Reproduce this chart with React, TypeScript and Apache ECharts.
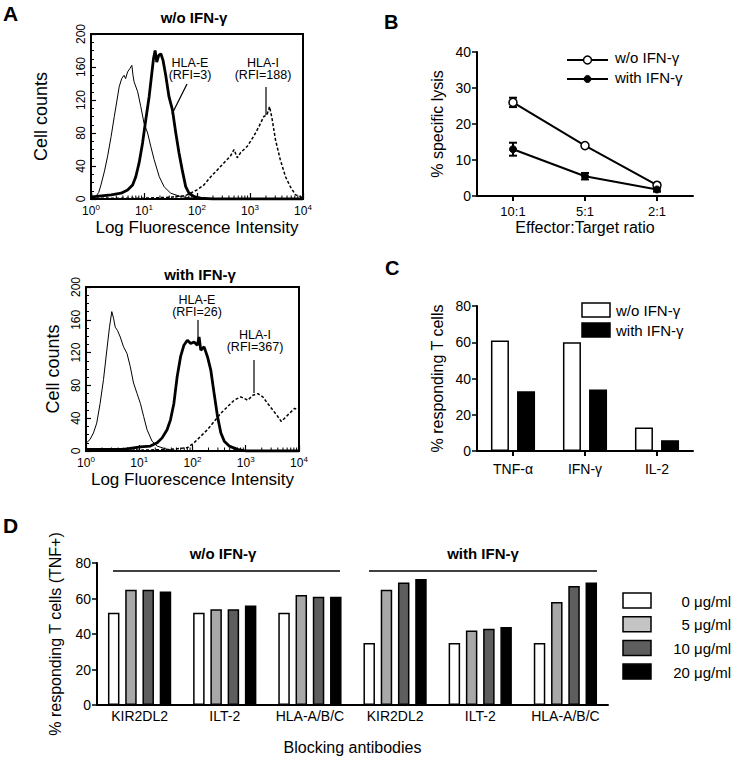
import React, { useEffect, useRef } from "react";
import * as echarts from "echarts";

// ---------- Panel A: flow cytometry histograms ----------
const minorLogTicks = [2, 3, 4, 5, 6, 7, 8, 9, 20, 30, 40, 50, 60, 70, 80, 90, 200, 300, 400, 500, 600, 700, 800, 900, 2000, 3000, 4000, 5000, 6000, 7000, 8000, 9000];

// w/o IFN-γ
const isoTop = [[1, 0], [1, 16], [1.04, 4], [1.2, 2], [1.4, 8], [1.54, 17], [1.8, 34], [2.06, 52], [2.4, 76], [2.75, 100], [3.1, 120], [3.4, 136], [3.8, 146], [4.2, 150], [4.5, 146], [4.9, 154], [5.4, 158], [5.9, 162], [6.2, 150], [6.5, 142], [7.6, 130], [8.7, 112], [10, 92], [11.7, 80], [13.4, 64], [15.5, 48], [19.4, 27], [23.9, 15], [31.8, 7], [49, 3], [80, 1], [150, 0], [10000, 0]];
const hlaETop = [[1, 2], [1.15, 3], [2.4, 5], [3.7, 7], [4.9, 11], [6.1, 17], [7.0, 27], [8.1, 44], [9.4, 68], [10.8, 96], [12.5, 124], [13.8, 148], [15.1, 170], [16.2, 180], [17.4, 166], [19, 174], [20.8, 176], [22.9, 168], [25.7, 150], [29.6, 124], [34.4, 108], [39.8, 80], [45.7, 56], [52.7, 35], [61.2, 15], [70.5, 7], [87.5, 3], [117, 1], [200, 0], [10000, 0]];
const hlaITop = [[1, 1], [10, 1], [30, 2], [60, 4], [100, 11], [135, 17], [182, 27], [240, 35], [324, 44], [427, 52], [500, 60], [575, 50], [661, 56], [891, 64], [1175, 76], [1479, 88], [1820, 100], [2089, 102], [2344, 112], [2630, 96], [3020, 72], [3715, 48], [4677, 27], [5754, 15], [7244, 5], [8913, 3], [10000, 1]];

// with IFN-γ
const isoBot = [[1, 0], [1, 85], [1.02, 10], [1.19, 14], [1.38, 22], [1.59, 34], [1.84, 58], [2.13, 87], [2.46, 123], [2.76, 151], [3.05, 170], [3.29, 162], [3.54, 151], [3.9, 147], [4.4, 139], [5.07, 127], [5.88, 119], [6.78, 103], [7.8, 83], [9.1, 70], [10.5, 58], [12.1, 42], [14.0, 26], [17.4, 12], [21.7, 6], [33.3, 2], [60, 0], [10000, 0]];
const hlaEBot = [[1, 2], [5, 2], [10.5, 5], [16.2, 6], [21.7, 10], [26.9, 16], [33.3, 26], [38.6, 38], [44.7, 58], [51.6, 91], [59.7, 115], [69, 129], [80, 135], [92.4, 131], [107, 133], [123, 129], [133, 139], [143, 123], [165, 127], [191, 115], [220, 99], [255, 70], [295, 42], [341, 22], [395, 12], [490, 6], [700, 2], [1000, 0], [10000, 0]];
const hlaIBot = [[1, 1], [10, 1], [40, 2], [80, 4], [107, 10], [143, 18], [191, 26], [255, 36], [341, 46], [454, 54], [606, 62], [810, 66], [1091, 62], [1355, 68], [1690, 70], [2090, 66], [2580, 58], [3220, 50], [4000, 42], [4650, 36], [5370, 40], [6630, 46], [8260, 52], [10000, 50]];

// ---------- Panel B: lysis ----------
const ratios = ["10:1", "5:1", "2:1"];
const lysisWo = [26, 14, 3];
const lysisWoErr = [1.3, 0.4, 0.5];
const lysisWith = [13, 5.5, 1.8];
const lysisWithErr = [1.8, 0.9, 0.6];

// ---------- Panel C: cytokines ----------
const cytokines = ["TNF-α", "IFN-γ", "IL-2"];
const cytoWo = [61, 60, 13];
const cytoWith = [33, 34, 6];

// ---------- Panel D: blocking antibodies ----------
const antibodies = ["KIR2DL2", "ILT-2", "HLA-A/B/C", "KIR2DL2", "ILT-2", "HLA-A/B/C"];
const doseNames = ["0 μg/ml", "5 μg/ml", "10 μg/ml", "20 μg/ml"];
const dose0 = [52, 52, 52, 35, 35, 35];
const dose5 = [65, 54, 62, 65, 42, 58];
const dose10 = [65, 54, 61, 69, 43, 67];
const dose20 = [64, 56, 61, 71, 44, 69];
const doseColors = ["#ffffff", "#a8a8a8", "#5e5e5e", "#000000"];
const doseLegendColors = ["#ffffff", "#c4c4c4", "#5e5e5e", "#000000"];

const FONT = "Liberation Sans, Arial, Helvetica, sans-serif";

function logAxis(gridIndex: number) {
  return {
    type: "log",
    gridIndex,
    logBase: 10,
    min: 1,
    max: 10000,
    axisLine: { show: true, lineStyle: { color: "#000", width: 2 } },
    axisTick: { show: true, inside: true, length: 6, lineStyle: { color: "#000", width: 1.2 } },
    splitLine: { show: false },
    axisLabel: {
      margin: 4,
      formatter: (v: number) => `{b|10}{s|${Math.round(Math.log10(v))}}`,
      rich: {
        b: { fontSize: 12, lineHeight: 14, verticalAlign: "bottom", color: "#000", fontFamily: FONT },
        s: { fontSize: 8, lineHeight: 8, verticalAlign: "top", color: "#000", fontFamily: FONT },
      },
    },
    name: "Log Fluorescence Intensity",
    nameLocation: "middle",
    nameGap: 20,
    nameTextStyle: { fontSize: 17, color: "#000", fontFamily: FONT },
  };
}

function countAxis(gridIndex: number, nameGap: number) {
  return {
    type: "value",
    gridIndex,
    min: 0,
    max: 200,
    interval: 40,
    axisLine: { show: true, lineStyle: { color: "#000", width: 2 } },
    axisTick: { show: true, inside: true, length: 5, lineStyle: { color: "#000", width: 1.2 } },
    minorTick: { show: true, splitNumber: 4, length: 3, lineStyle: { color: "#000", width: 1 } },
    splitLine: { show: false },
    axisLabel: { rotate: 90, margin: 4, fontSize: 12, color: "#000", fontFamily: FONT },
    name: "Cell counts",
    nameLocation: "middle",
    nameGap,
    nameTextStyle: { fontSize: 18, color: "#000", fontFamily: FONT },
  };
}

function minorTickSeries(idx: number) {
  return {
    type: "custom",
    xAxisIndex: idx,
    yAxisIndex: idx,
    silent: true,
    z: 5,
    data: minorLogTicks.map((v) => [v, 0]),
    renderItem: (_p: any, api: any) => {
      const pt = api.coord([api.value(0), 0]);
      return {
        type: "line",
        shape: { x1: pt[0], y1: pt[1], x2: pt[0], y2: pt[1] - 3.5 },
        style: { stroke: "#000", lineWidth: 1 },
      };
    },
  };
}

function histo(idx: number, data: number[][], width: number, dashed: boolean) {
  return {
    type: "line",
    xAxisIndex: idx,
    yAxisIndex: idx,
    data,
    showSymbol: false,
    symbol: "none",
    clip: true,
    lineStyle: { color: "#000", width, type: dashed ? [3, 2] : "solid" },
  };
}

function errorSeries(idx: number, vals: number[], errs: number[]) {
  return {
    type: "custom",
    xAxisIndex: idx,
    yAxisIndex: idx,
    silent: true,
    z: 1,
    data: vals.map((v, i) => [i, v - errs[i], v + errs[i]]),
    renderItem: (_p: any, api: any) => {
      const lo = api.coord([api.value(0), api.value(1)]);
      const hi = api.coord([api.value(0), api.value(2)]);
      const w = 4;
      return {
        type: "group",
        children: [
          { type: "line", shape: { x1: lo[0], y1: lo[1], x2: hi[0], y2: hi[1] }, style: { stroke: "#000", lineWidth: 2 } },
          { type: "line", shape: { x1: lo[0] - w, y1: lo[1], x2: lo[0] + w, y2: lo[1] }, style: { stroke: "#000", lineWidth: 2 } },
          { type: "line", shape: { x1: hi[0] - w, y1: hi[1], x2: hi[0] + w, y2: hi[1] }, style: { stroke: "#000", lineWidth: 2 } },
        ],
      };
    },
  };
}

function txt(x: number, y: number, text: string, size: number, opts: any = {}) {
  return {
    type: "text",
    x,
    y,
    style: {
      text,
      fontSize: size,
      lineHeight: opts.lineHeight || undefined,
      fontFamily: FONT,
      fill: "#000",
      fontWeight: opts.bold ? "bold" : "normal",
      textAlign: opts.align || "center",
      textVerticalAlign: "middle",
    },
  };
}

function ln(x1: number, y1: number, x2: number, y2: number, w = 1.2) {
  return { type: "line", shape: { x1, y1, x2, y2 }, style: { stroke: "#000", lineWidth: w } };
}

export default function App() {
  const ref = useRef<HTMLDivElement>(null);
  useEffect(() => {
    if (!ref.current) return;
    const chart = echarts.init(ref.current, null, { renderer: "svg" });
    const blackAxisLine = { show: true, lineStyle: { color: "#000", width: 2 } };
    const option: any = {
      animation: false,
      backgroundColor: "#fff",
      textStyle: { fontFamily: FONT },
      grid: [
        { left: 91, top: 34, width: 212, height: 165, show: true, borderColor: "#000", borderWidth: 2, backgroundColor: "transparent" },
        { left: 86, top: 287, width: 213, height: 164, show: true, borderColor: "#000", borderWidth: 2, backgroundColor: "transparent" },
        { left: 477, top: 52, width: 216, height: 144 },
        { left: 477, top: 306, width: 216, height: 145 },
        { left: 97, top: 563, width: 511, height: 142 },
      ],
      xAxis: [
        logAxis(0),
        logAxis(1),
        {
          type: "category",
          gridIndex: 2,
          data: ratios,
          axisLine: blackAxisLine,
          axisTick: { show: true, alignWithLabel: true, length: 5, lineStyle: { color: "#000", width: 2 } },
          axisLabel: { fontSize: 13, color: "#000", margin: 9, fontFamily: FONT },
          name: "Effector:Target ratio",
          nameLocation: "middle",
          nameGap: 23,
          nameTextStyle: { fontSize: 16, color: "#000", fontFamily: FONT },
        },
        {
          type: "category",
          gridIndex: 3,
          data: cytokines,
          axisLine: blackAxisLine,
          axisTick: { show: true, alignWithLabel: true, length: 5, lineStyle: { color: "#000", width: 2 } },
          axisLabel: { fontSize: 14, color: "#000", margin: 11, fontFamily: FONT },
        },
        {
          type: "category",
          gridIndex: 4,
          data: antibodies,
          axisLine: blackAxisLine,
          axisTick: { show: false },
          axisLabel: { fontSize: 14, color: "#000", margin: 4, fontFamily: FONT, interval: 0 },
          name: "Blocking antibodies",
          nameLocation: "middle",
          nameGap: 34,
          nameTextStyle: { fontSize: 16, color: "#000", fontFamily: FONT },
        },
      ],
      yAxis: [
        countAxis(0, 41),
        countAxis(1, 24),
        {
          type: "value",
          gridIndex: 2,
          min: 0,
          max: 40,
          interval: 10,
          axisLine: blackAxisLine,
          axisTick: { show: true, length: 5, lineStyle: { color: "#000", width: 1.5 } },
          splitLine: { show: false },
          axisLabel: { fontSize: 14, color: "#000", margin: 6, fontFamily: FONT },
          name: "% specific lysis",
          nameLocation: "middle",
          nameGap: 32,
          nameTextStyle: { fontSize: 16, color: "#000", fontFamily: FONT },
        },
        {
          type: "value",
          gridIndex: 3,
          min: 0,
          max: 80,
          interval: 20,
          axisLine: blackAxisLine,
          axisTick: { show: true, length: 5, lineStyle: { color: "#000", width: 1.5 } },
          splitLine: { show: false },
          axisLabel: { fontSize: 14, color: "#000", margin: 6, fontFamily: FONT },
          name: "% responding T cells",
          nameLocation: "middle",
          nameGap: 32,
          nameTextStyle: { fontSize: 16, color: "#000", fontFamily: FONT },
        },
        {
          type: "value",
          gridIndex: 4,
          min: 0,
          max: 80,
          interval: 20,
          axisLine: blackAxisLine,
          axisTick: { show: true, length: 5, lineStyle: { color: "#000", width: 1.5 } },
          splitLine: { show: false },
          axisLabel: { fontSize: 14, color: "#000", margin: 6, fontFamily: FONT },
          name: "% responding T cells (TNF+)",
          nameLocation: "middle",
          nameGap: 34,
          nameTextStyle: { fontSize: 16, color: "#000", fontFamily: FONT },
        },
      ],
      series: [
        histo(0, isoTop, 1, false),
        histo(0, hlaETop, 2.8, false),
        histo(0, hlaITop, 1.5, true),
        minorTickSeries(0),
        histo(1, isoBot, 1, false),
        histo(1, hlaEBot, 2.8, false),
        histo(1, hlaIBot, 1.5, true),
        minorTickSeries(1),
        errorSeries(2, lysisWo, lysisWoErr),
        errorSeries(2, lysisWith, lysisWithErr),
        {
          type: "line",
          name: "w/o IFN-γ",
          xAxisIndex: 2,
          yAxisIndex: 2,
          data: lysisWo,
          symbol: "circle",
          symbolSize: 8,
          z: 3,
          lineStyle: { color: "#000", width: 2 },
          itemStyle: { color: "#fff", borderColor: "#000", borderWidth: 1.5 },
        },
        {
          type: "line",
          name: "with IFN-γ",
          xAxisIndex: 2,
          yAxisIndex: 2,
          data: lysisWith,
          symbol: "circle",
          symbolSize: 7,
          z: 3,
          lineStyle: { color: "#000", width: 2 },
          itemStyle: { color: "#000", borderColor: "#000", borderWidth: 1 },
        },
        {
          type: "bar",
          name: "w/o IFN-γ",
          xAxisIndex: 3,
          yAxisIndex: 3,
          data: cytoWo,
          barWidth: 18,
          barGap: "45%",
          itemStyle: { color: "#fff", borderColor: "#000", borderWidth: 1.5 },
        },
        {
          type: "bar",
          name: "with IFN-γ",
          xAxisIndex: 3,
          yAxisIndex: 3,
          data: cytoWith,
          barWidth: 18,
          barGap: "45%",
          itemStyle: { color: "#000", borderColor: "#000", borderWidth: 1.5 },
        },
        ...[dose0, dose5, dose10, dose20].map((d, i) => ({
          type: "bar",
          name: doseNames[i],
          xAxisIndex: 4,
          yAxisIndex: 4,
          data: d,
          barWidth: 11.5,
          barGap: "50%",
          itemStyle: { color: doseColors[i], borderColor: "#000", borderWidth: 1.5 },
        })),
      ],
      graphic: [
        // panel letters
        txt(3, 13, "A", 21, { bold: true, align: "left" }),
        txt(384, 22, "B", 20, { bold: true, align: "left" }),
        txt(385, 268, "C", 20, { bold: true, align: "left" }),
        txt(3, 525, "D", 21, { bold: true, align: "left" }),
        // panel A titles and annotations
        txt(194, 17, "w/o IFN-γ", 15, { bold: true }),
        txt(200, 274, "with IFN-γ", 15, { bold: true }),
        txt(190, 69, "HLA-E\n(RFI=3)", 12.5, { lineHeight: 12.5 }),
        ln(187, 84, 172, 114),
        txt(263, 69, "HLA-I\n(RFI=188)", 12.5, { lineHeight: 12.5 }),
        ln(266, 87, 266, 115),
        txt(197, 306, "HLA-E\n(RFI=26)", 12.5, { lineHeight: 12.5 }),
        ln(198, 320, 198, 344),
        txt(255, 341, "HLA-I\n(RFI=367)", 12.5, { lineHeight: 12.5 }),
        ln(254, 360, 254, 393),
        // panel B legend
        ln(567, 60, 608, 60, 2),
        { type: "circle", shape: { cx: 587.5, cy: 60, r: 4 }, style: { fill: "#fff", stroke: "#000", lineWidth: 1.5 } },
        txt(615, 57, "w/o IFN-γ", 15, { align: "left" }),
        ln(567, 79, 608, 79, 2),
        { type: "circle", shape: { cx: 587.5, cy: 79, r: 3.5 }, style: { fill: "#000", stroke: "#000", lineWidth: 1 } },
        txt(615, 77, "with IFN-γ", 15, { align: "left" }),
        // panel C legend
        { type: "rect", shape: { x: 582, y: 303, width: 28, height: 14 }, style: { fill: "#fff", stroke: "#000", lineWidth: 1.5 } },
        txt(616, 310, "w/o IFN-γ", 15, { align: "left" }),
        { type: "rect", shape: { x: 582, y: 323, width: 28, height: 14 }, style: { fill: "#000", stroke: "#000", lineWidth: 1.5 } },
        txt(616, 330, "with IFN-γ", 15, { align: "left" }),
        // panel D group headers
        txt(223, 553, "w/o IFN-γ", 15, { bold: true }),
        ln(113, 571, 340, 571, 1.5),
        txt(483, 553, "with IFN-γ", 15, { bold: true }),
        ln(369, 571, 597, 571, 1.5),
        // panel D legend
        ...doseNames.flatMap((n, i) => [
          { type: "rect", shape: { x: 623, y: 593 + i * 23.7, width: 28, height: 15 }, style: { fill: doseLegendColors[i], stroke: "#000", lineWidth: 1.5 } },
          txt(731, 601 + i * 23.7, n, 15, { align: "right" }),
        ]),
      ],
    };
    chart.setOption(option);
    return () => chart.dispose();
  }, []);
  return <div ref={ref} style={{ position: "fixed", left: 0, top: 0, width: 732, height: 762, background: "#fff" }} />;
}
